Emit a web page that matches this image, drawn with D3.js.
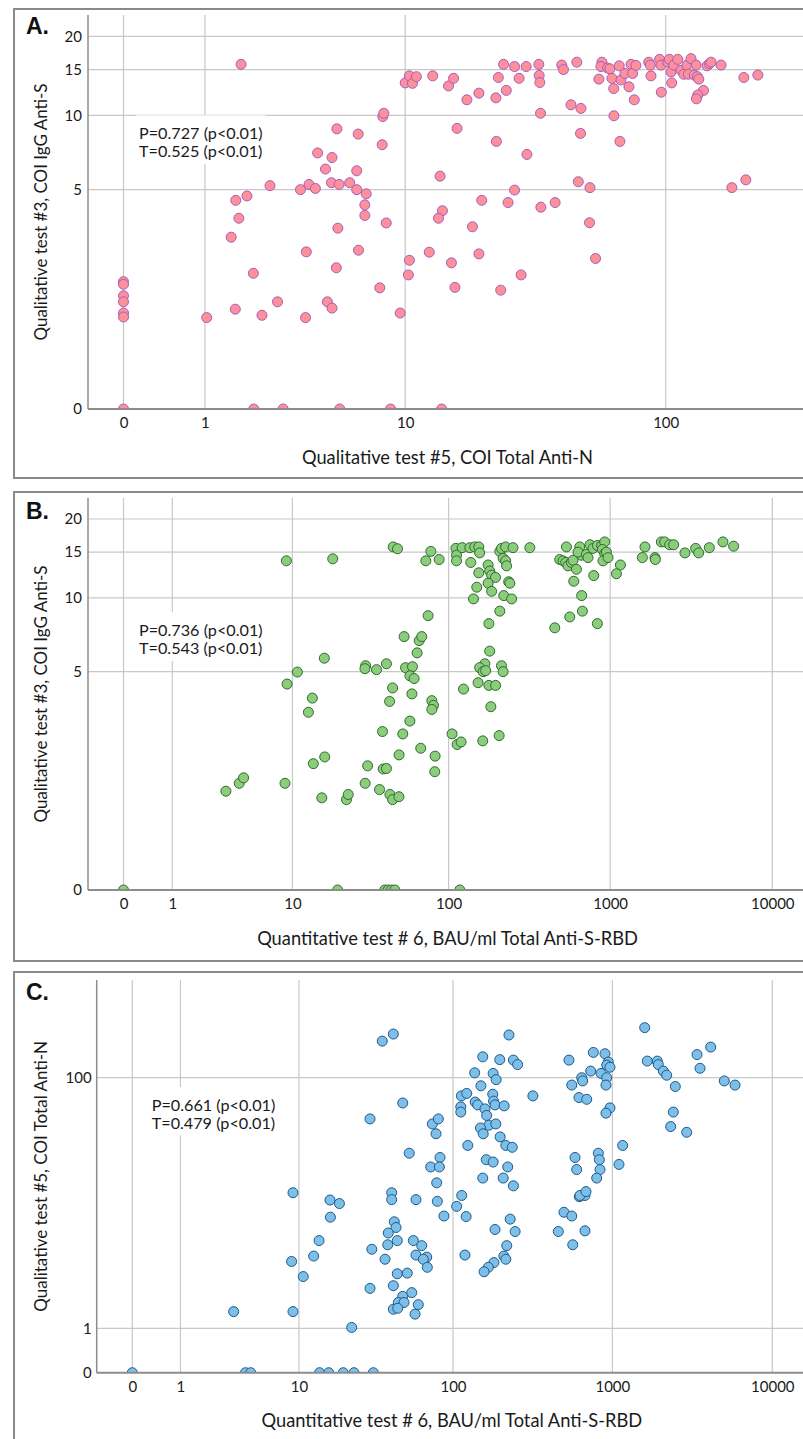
<!DOCTYPE html>
<html>
<head>
<meta charset="utf-8">
<script src="https://cdn.jsdelivr.net/npm/d3@7/dist/d3.min.js"></script>
<style>
    body { margin: 0; background: #fff; }
    svg { display: block; font-family: Lato, "Open Sans", sans-serif; }
</style>
</head>
<body>
<div id="chart"></div>
<script>
// ---- Data: [x, y] pairs ----

// Panel A: test #5 COI Total Anti-N (x) vs test #3 COI IgG Anti-S (y)
var panelAPoints = [
    [1.72,15.7],[10.0,13.35],[10.4,14.2],[10.7,13.3],[11.1,14.1],[8.09,9.9],[8.17,10.2],[5.15,8.86],[6.37,8.45],[8.04,7.66],
    [4.22,7.1],[4.9,6.8],[4.58,6.1],[6.28,6.0],[2.48,5.2],[3.51,5.0],[3.85,5.26],[4.12,5.06],[4.87,5.35],[5.27,5.26],
    [5.86,5.35],[6.28,5.0],[6.89,4.8],[1.86,4.7],[1.6,4.5],[1.67,3.75],[6.8,4.3],[6.8,3.86],[8.36,3.57],[5.2,3.38],[1.5,3.07],
    [3.74,2.61],[6.39,2.66],[10.4,2.37],[5.12,2.17],[2.02,2.03],[10.3,1.99],[7.86,1.69],[1.59,1.26],[2.25,1.15],[2.71,1.4],
    [3.71,1.11],[4.67,1.4],[4.9,1.28],[9.54,1.19],[1.03,1.11],
    [0,1.83],[0,1.77],[0,1.52],[0,1.4],[0,1.19],[0,1.12],
    [0,0],[2.03,0],[2.89,0],[5.3,0],[8.71,0],[14.0,0],
    [12.5,2.6],[15.3,2.3],[19.6,2.55],[15.8,1.7],[23.8,1.64],[28.5,1.99],[54.6,2.42],
    [18.5,3.43],[12.9,14.2],[14.9,13.0],[15.6,13.9],[17.6,11.5],[19.6,12.2],[22.8,11.7],[23.3,14.0],[24.4,15.7],[25.0,12.5],
    [26.9,15.4],[28.0,13.9],[29.8,15.4],[33.3,15.7],[33.4,14.25],[33.6,13.4],[33.8,10.2],[40.7,15.6],[41.3,15.0],[44.1,11.0],
    [46.4,16.0],[48.1,10.65],[47.9,8.5],[56.2,13.8],[57.7,16.0],[57.2,15.4],[60.6,15.2],[61.8,15.1],[62.9,13.9],[63.9,12.7],
    [67.0,15.5],[68.0,13.7],[70.4,14.5],[72.9,12.9],[74.2,15.7],[75.2,14.5],[76.3,11.5],[77.4,15.55],[64.0,9.97],[67.4,7.9],
    [86.4,16.0],[87.6,15.6],[88.1,14.2],[94.9,16.4],[96.3,12.3],[96,15.6],[101.8,16.0],[103.2,16.4],[104.7,14.7],[105.3,13.35],
    [107.2,15.6],[110.9,16.4],[114.1,14.9],[116.8,14.4],[120.1,15.6],[121.5,14.4],[124.3,16.5],[127.8,14.3],[129.8,15.6],[131.3,14.1],
    [132.9,13.8],[138.3,12.5],[131.7,12.0],[130.2,11.6],[142.6,15.5],[145.6,15.8],[147.6,16.0],[160.8,15.6],[195.4,14.0],[220.3,14.3],
    [16.1,8.9],[22.9,7.9],[30.0,7.0],[13.8,5.7],[47.0,5.4],[52.0,5.1],[26.9,4.98],[20.1,4.5],[25.4,4.4],[33.9,4.2],
    [38.4,4.4],[14.1,4.05],[13.6,3.75],[51.8,3.58],[176.4,5.1],[198.8,5.5]
];
var panelAXTicks = [0, 1, 10, 100];
var panelAYTicks = [0, 5, 10, 15, 20];
var panelAStats = ["P=0.727 (p<0.01)", "T=0.525 (p<0.01)"];

// Panel B: test #6 BAU/ml Total Anti-S-RBD (x) vs test #3 COI IgG Anti-S (y)
var panelBPoints = [
    [9.1,13.9],[18.5,14.15],[45.0,15.7],[47.9,15.45],[52.7,7.0],[16.3,5.7],[30.1,5.3],[29.8,5.15],[35.3,5.1],[40.8,5.4],
    [10.8,4.98],[9.2,4.42],[13.6,3.83],[12.8,3.3],[44.6,4.25],[42.7,3.7],[53.8,5.2],[59.5,5.25],[57.3,4.8],[60.9,4.67],
    [59,4.0],[63.6,6.0],[65.5,6.74],[57.3,3.0],
    [3.28,1.25],[4.17,1.4],[4.5,1.51],[8.9,1.4],[13.8,1.82],[16.4,1.98],[15.7,1.13],[22.7,1.1],[23.3,1.19],[29.9,1.4],
    [31.0,1.77],[36.9,1.28],[42.9,1.19],[44.6,1.1],[48.9,1.15],[38.9,1.7],[40.8,1.71],[38.5,2.67],[51.7,2.6],[49,2.03],[67,2.2],
    [0,0],[19.9,0],[39.8,0],[41.8,0],[43.9,0],[46.1,0],[117.4,0],
    [82.4,2.0],[82,1.64],[105.1,2.6],[113,2.3],[119.6,2.37],[163,2.4],[206,2.55],
    [77.5,15.1],[72.1,13.9],[87.3,14.06],[74.5,8.5],[68.0,7.0],[78.6,3.73],[80.5,3.55],[78.6,3.4],
    [111,15.5],[112,14.6],[112,13.9],[121.3,15.6],[135.4,15.6],[145.5,15.7],[154,15.7],[156,14.9],[137.4,13.7],[154,12.5],
    [176,13.4],[180,12.7],[185,12.25],[195.5,12.0],[176,11.4],[149.7,11.0],[185,10.6],[142.8,9.9],[220,10.2],[246,9.9],
    [236,11.55],[240,11.4],[208,8.86],[178,7.9],[208,15.1],[213,15.5],[226,15.7],[251,15.6],[218,14.2],[226,13.9],
    [229,13.3],[319,15.6],
    [180,6.1],[168,5.4],[156,5.2],[164,5.0],[170,5.05],[213,5.3],[218,5.0],[152.5,4.48],[178,4.36],[196,4.36],[123.8,4.2],[183,3.5],
    [488,14.06],[512,13.9],[537,15.7],[532,13.7],[549,13.3],[576,13.7],[590,13.97],[619,12.9],[649,15.7],[665,14.6],
    [633,15.0],[713,14.7],[730,14.3],[751,16.0],[784,15.5],[834,15.9],[887,15.9],[925,16.4],[896,15.35],[925,14.8],
    [948,15.0],[903,13.9],[970,14.3],[596,11.6],[792,12.2],[667,10.2],[674,8.86],[563,8.4],[455,7.6],[834,7.9],
    [1157,13.4],[1093,12.4],
    [1640,15.7],[1580,14.3],[1890,14.3],[1901,14.06],[2070,16.4],[2169,16.4],[2329,16.0],[2464,16.0],[2893,14.9],[3368,15.5],
    [3515,14.9],[4089,15.6],[4962,16.4],[5776,15.8]
];
var panelBXTicks = [0, 1, 10, 100, 1000, 10000];
var panelBYTicks = [0, 5, 10, 15, 20];
var panelBStats = ["P=0.736 (p<0.01)", "T=0.543 (p<0.01)"];

// Panel C: test #6 BAU/ml Total Anti-S-RBD (x) vs test #5 COI Total Anti-N (y)
var panelCPoints = [
    [35.5,178],[41.8,199],[48.0,67],[29.6,52],[52.8,30],[9.1,15.7],[16.2,13.9],[18.7,13.1],[40.8,15.7],[40.8,14],[58.3,14],
    [16.3,10.4],[42.4,9.6],[43.5,8.7],[38.8,7.9],[44.3,6.9],[38.5,6.4],[37.0,4.9],[30.4,5.9],[56.1,6.9],[58.3,5.3],
    [44.3,3.7],[51.3,3.75],[41.8,2.9],[29.6,2.74],[48.0,2.3],[54.8,2.5],[45.0,2.0],[48.9,2.0],[41.8,1.7],[44.6,1.74],
    [57.5,1.5],[60.3,1.9],[13.7,6.9],[12.6,5.2],[8.9,4.7],[10.7,3.5],[3.3,1.6],[9.1,1.6],[22.5,1.03],
    [0,0],[4.1,0],[4.5,0],[13.8,0],[15.9,0],[19.8,0],[23.3,0],[31.1,0],
    [79.6,13.6],[105.5,12.5],[113.5,15.0],[87.7,10.6],[121,10.5],[63.4,6.3],[68.2,5.1],[64.9,4.9],[68.8,4.2],[119,5.3],
    [184,8.4],[229,10.05],[246,8.1],[218,6.3],[209,5.2],[215,4.9],[181,4.6],[167,4.2],[157,3.85],[459,8.1],
    [498,11.3],[557,10.6],[674,8.2],[565,6.4],[621,14.7],[674,15],
    [225,196],[154,139],[197,133],[240,132],[255,123],[137,108],[179,107],[187,97],[150,88],[113,75],
    [122,78],[178,77],[318,75],[138,68],[143,65],[159,61],[180,69],[184,65],[210,64],[112,63],
    [112,58],[163,55],[168,47],[186,48],[149,45],[155,41],[74,48],[80.8,52],[78.1,41],[82.8,28],
    [72.3,24],[82,24],[78.9,18.5],[124,34],[198,39],[215,34],[236,33],[162,27],[179,26],[221,24],
    [154,20],[207,20],[240,17.6],
    [535,132],[760,149],[899,146],[943,128],[922,122],[966,118],[643,100],[732,111],[849,107],[652,95],
    [922,100],[912,89],[557,89],[618,73],[691,71],[966,62],[912,57],[584,28],[598,23],[817,30],
    [829,27],[837,23],[798,20],[627,15],[684,16],[1100,25],[1160,34],
    [1593,220],[1654,130],[1910,130],[1938,123],[2083,111],[2187,104],[2475,87],[2405,58],[2316,46],[2916,42],
    [3384,144],[4121,162],[3533,116],[5011,95],[5848,89]
];
var panelCXTicks = [0, 1, 10, 100, 1000, 10000];
var panelCYTicks = [0, 1, 100];
var panelCStats = ["P=0.661 (p<0.01)", "T=0.479 (p<0.01)"];

var xTitleAN = "Qualitative test #5, COI Total Anti-N";
var xTitleRBD = "Quantitative test # 6, BAU/ml Total Anti-S-RBD";
var yTitleAS = "Qualitative test #3, COI IgG Anti-S";
var yTitleAN = "Qualitative test #5, COI Total Anti-N";

// ---- Layout ----
var width = 803, height = 1439;

var panels = [
    {
        letter: "A.", points: panelAPoints, xTicks: panelAXTicks, yTicks: panelAYTicks, stats: panelAStats,
        xTitle: xTitleAN, yTitle: yTitleAS,
        fill: "#fd9098", stroke: "#a65cc4",
        frame: { top: 9, bottom: 478 },
        plot: { left: 88, top: 15, bottom: 409 },
        xDomain: [0, 100], xRange: [123.5, 665.7],
        yDomain: [0, 20], yRange: [409, 36.3],
        statsPos: [139, 139.3], letterPos: [26, 34], yPad: 6
    },
    {
        letter: "B.", points: panelBPoints, xTicks: panelBXTicks, yTicks: panelBYTicks, stats: panelBStats,
        xTitle: xTitleRBD, yTitle: yTitleAS,
        fill: "#8ccd7c", stroke: "#2f6a30",
        frame: { top: 492, bottom: 961 },
        plot: { left: 88, top: 498, bottom: 890 },
        xDomain: [0, 10000], xRange: [123.5, 772.3],
        yDomain: [0, 20], yRange: [890, 519],
        statsPos: [139, 636.3], letterPos: [26, 519], yPad: 6
    },
    {
        letter: "C.", points: panelCPoints, xTicks: panelCXTicks, yTicks: panelCYTicks, stats: panelCStats,
        xTitle: xTitleRBD, yTitle: yTitleAN,
        fill: "#7dbfe8", stroke: "#1d5a8a",
        frame: { top: 972, bottom: 1450 },
        plot: { left: 96.7, top: 980, bottom: 1372.7 },
        xDomain: [0, 10000], xRange: [132.3, 772.3],
        yDomain: [0, 100], yRange: [1372.7, 1077.7],
        statsPos: [151.7, 1111], letterPos: [26, 1000], yPad: 5
    }
];

var svg = d3.select("#chart")
    .append("svg")
    .attr("width", width)
    .attr("height", height);

svg.append("rect")
    .attr("width", width)
    .attr("height", height)
    .style("fill", "#fff");

var defs = svg.append("defs");

panels.forEach(function (p, idx) {
    var g = svg.append("g").attr("class", "panel");
    var plotRight = width + 5;

    // log10(v + 1) style axes: symlog with constant 1
    var x = d3.scaleSymlog().constant(1).domain(p.xDomain).range(p.xRange);
    var y = d3.scaleSymlog().constant(1).domain(p.yDomain).range(p.yRange);

    // panel frame
    g.append("path")
        .attr("d", "M" + (width + 10) + "," + p.frame.top + "H14V" + p.frame.bottom + "H" + (width + 10))
        .style("fill", "none")
        .style("stroke", "#8a8a8a")
        .style("stroke-width", 2);

    // grid lines
    g.selectAll(".vgrid")
        .data(p.xTicks)
        .enter()
        .append("line")
        .attr("x1", d => x(d))
        .attr("x2", d => x(d))
        .attr("y1", p.plot.top)
        .attr("y2", p.plot.bottom)
        .style("stroke", "#c8c8c8")
        .style("stroke-width", 1.2);

    g.selectAll(".hgrid")
        .data(p.yTicks.filter(d => d !== 0))
        .enter()
        .append("line")
        .attr("x1", p.plot.left)
        .attr("x2", plotRight)
        .attr("y1", d => y(d))
        .attr("y2", d => y(d))
        .style("stroke", "#c8c8c8")
        .style("stroke-width", 1.2);

    // correlation text with white background
    var stats = g.append("g");
    var statsText = stats.append("text")
        .attr("x", p.statsPos[0])
        .attr("y", p.statsPos[1])
        .style("font-size", "16.2px")
        .style("fill", "#1a1a1a");
    statsText.selectAll("tspan")
        .data(p.stats)
        .enter()
        .append("tspan")
        .attr("x", p.statsPos[0])
        .attr("dy", (d, i) => i === 0 ? 0 : 17.6)
        .text(d => d);
    var bb = statsText.node().getBBox();
    stats.insert("rect", "text")
        .attr("x", bb.x - 3)
        .attr("y", bb.y - 8)
        .attr("width", bb.width + 6)
        .attr("height", bb.height + 12)
        .style("fill", "#fff");

    // points, clipped to the plot area
    defs.append("clipPath")
        .attr("id", "clip" + idx)
        .append("rect")
        .attr("x", p.plot.left)
        .attr("y", p.plot.top - 10)
        .attr("width", plotRight - p.plot.left)
        .attr("height", p.plot.bottom - p.plot.top + 10);

    g.append("g")
        .attr("clip-path", "url(#clip" + idx + ")")
        .selectAll("circle")
        .data(p.points)
        .enter()
        .append("circle")
        .attr("cx", d => x(d[0]))
        .attr("cy", d => y(d[1]))
        .attr("r", 5)
        .style("fill", p.fill)
        .style("stroke", p.stroke)
        .style("stroke-width", 1);

    // axis lines
    g.append("line")
        .attr("x1", p.plot.left)
        .attr("x2", p.plot.left)
        .attr("y1", p.plot.top)
        .attr("y2", p.plot.bottom)
        .style("stroke", "#8c8c8c")
        .style("stroke-width", 1.5);
    g.append("line")
        .attr("x1", p.plot.left)
        .attr("x2", plotRight)
        .attr("y1", p.plot.bottom)
        .attr("y2", p.plot.bottom)
        .style("stroke", "#8c8c8c")
        .style("stroke-width", 2);

    // tick labels
    var xAxis = d3.axisBottom(x)
        .tickValues(p.xTicks)
        .tickFormat(d3.format("d"))
        .tickSize(0)
        .tickPadding(8.5);
    var xg = g.append("g")
        .attr("transform", "translate(0," + p.plot.bottom + ")")
        .call(xAxis);
    xg.select(".domain").remove();
    xg.selectAll("text")
        .style("font-family", "Lato, sans-serif")
        .style("font-size", "15px")
        .style("fill", "#1a1a1a");

    var yAxis = d3.axisLeft(y)
        .tickValues(p.yTicks)
        .tickFormat(d3.format("d"))
        .tickSize(0)
        .tickPadding(p.yPad);
    var yg = g.append("g")
        .attr("transform", "translate(" + p.plot.left + ",0)")
        .call(yAxis);
    yg.select(".domain").remove();
    yg.selectAll("text")
        .style("font-family", "Lato, sans-serif")
        .style("font-size", "15px")
        .style("fill", "#1a1a1a");

    // axis titles
    g.append("text")
        .attr("x", (p.plot.left + width) / 2 + 2)
        .attr("y", p.plot.bottom + 54.5)
        .attr("text-anchor", "middle")
        .style("font-size", "18.3px")
        .style("fill", "#1a1a1a")
        .text(p.xTitle);

    g.append("text")
        .attr("transform", "translate(47," + (p.plot.top + p.plot.bottom) / 2 + ") rotate(-90)")
        .attr("text-anchor", "middle")
        .style("font-size", "17px")
        .style("fill", "#1a1a1a")
        .text(p.yTitle);

    // panel letter
    g.append("text")
        .attr("x", p.letterPos[0])
        .attr("y", p.letterPos[1])
        .style("font-family", "'Liberation Sans', Arial, sans-serif")
        .style("font-weight", "bold")
        .style("font-size", "23px")
        .style("fill", "#111")
        .text(p.letter);
});
</script>
</body>
</html>
